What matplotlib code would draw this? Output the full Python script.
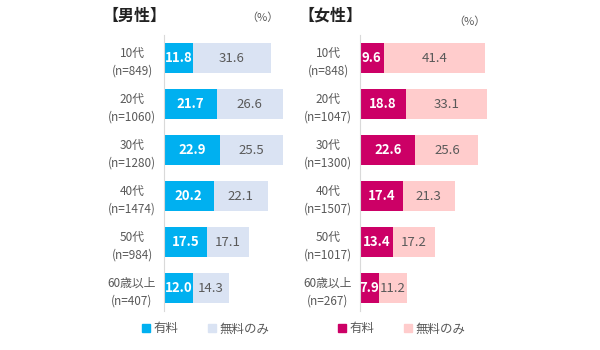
import matplotlib.pyplot as plt

plt.rcParams['font.family'] = ['Noto Sans CJK JP', 'DejaVu Sans']

# age groups and sample sizes
ages = ['10代', '20代', '30代', '40代', '50代', '60歳以上']
n_male = [849, 1060, 1280, 1474, 984, 407]
n_female = [848, 1047, 1300, 1507, 1017, 267]

# percentages
male_paid = [11.8, 21.7, 22.9, 20.2, 17.5, 12.0]
male_free = [31.6, 26.6, 25.5, 22.1, 17.1, 14.3]
female_paid = [9.6, 18.8, 22.6, 17.4, 13.4, 7.9]
female_free = [41.4, 33.1, 25.6, 21.3, 17.2, 11.2]

GRAY = '#595959'

fig = plt.figure(figsize=(6, 3.5), dpi=100)


def panel(left, paid, free, ns, c_paid, c_free, title, title_x, pct_x, pct_y):
    ax = fig.add_axes([left, 0.1114, 0.225, 0.7886])
    y = list(range(len(ages)))
    ax.barh(y, paid, height=0.66, color=c_paid)
    ax.barh(y, free, left=paid, height=0.66, color=c_free)
    for i in y:
        ax.text(paid[i] / 2, i, '%.1f' % paid[i], ha='center', va='center',
                color='white', fontsize=9.5, fontweight='bold')
        ax.text(paid[i] + free[i] / 2, i, '%.1f' % free[i], ha='center',
                va='center', color=GRAY, fontsize=9.5)
    ax.set_xlim(0, 55)
    ax.set_ylim(len(ages) - 0.5, -0.5)
    ax.set_yticks(y)
    ax.set_yticklabels(['%s\n(n=%d)' % (a, n) for a, n in zip(ages, ns)],
                       fontsize=8.5, color=GRAY, ha='center', linespacing=1.5)
    ax.tick_params(axis='y', length=0, pad=23)
    ax.set_xticks([])
    for s in ['top', 'right', 'bottom']:
        ax.spines[s].set_visible(False)
    ax.spines['left'].set_color('#d9d9d9')
    h1 = plt.Rectangle((0, 0), 1, 1, color=c_paid)
    h2 = plt.Rectangle((0, 0), 1, 1, color=c_free)
    leg = ax.legend([h1, h2], ['有料', '無料のみ'], loc='center',
                    bbox_to_anchor=(0.31, -0.065), ncol=2, frameon=False,
                    handlelength=0.6, handleheight=0.6, handletextpad=0.3,
                    columnspacing=2.4, fontsize=9)
    for t in leg.get_texts():
        t.set_color(GRAY)
    fig.text(title_x, 1 - 16 / 350, title, ha='center', va='center',
             fontsize=11.5, fontweight='bold', color='#222222')
    fig.text(pct_x, 1 - pct_y / 350, '（%）', ha='center', va='center',
             fontsize=8, color=GRAY)
    return ax


panel(164 / 600, male_paid, male_free, n_male, '#00B0F0', '#DAE3F3',
      '【男性】', 134 / 600, 262 / 600, 18)
panel(360 / 600, female_paid, female_free, n_female, '#CC0066', '#FFCCCC',
      '【女性】', 330 / 600, 469 / 600, 22)

fig.savefig('out.png', dpi=100)
